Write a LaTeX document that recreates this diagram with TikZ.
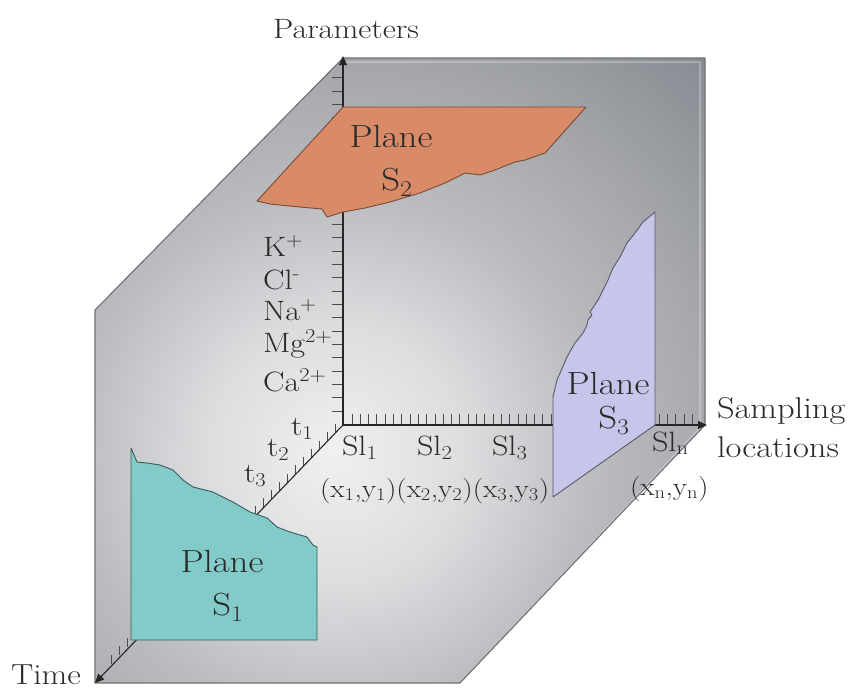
\documentclass[tikz,border=0pt]{standalone}
\usepackage{fontspec}
\setmainfont{Latin Modern Roman}[FakeStretch=1.15]
\usetikzlibrary{arrows.meta,calc}
\definecolor{txt}{HTML}{2A2A2A}
\definecolor{shadeA}{HTML}{F0F0F0}
\definecolor{shadeM}{HTML}{DCDDDF}
\definecolor{shadeN}{HTML}{BBBCBF}
\definecolor{shadeP}{HTML}{A6A8AC}
\definecolor{shadeB}{HTML}{85888F}
\definecolor{planeA}{HTML}{82CBC9}
\definecolor{planeB}{HTML}{D98A67}
\definecolor{planeC}{HTML}{C7C5E9}
\definecolor{edgegray}{HTML}{6E7075}
\pgfdeclareradialshading{cubeshade}{\pgfpoint{0bp}{0bp}}{color(0bp)=(shadeA); color(5.8bp)=(shadeM); color(11.6bp)=(shadeN); color(17bp)=(shadeP); color(25bp)=(shadeB); color(50bp)=(shadeB)}
\tikzset{
  axisline/.style={draw=black!85, line width=1.1pt, -{Triangle[length=9pt,width=8pt]}},
  tickline/.style={draw=black!70, line width=0.9pt},
  planeshape/.style={line width=0.9pt, line join=round},
  lbl/.style={text=txt, inner sep=0pt, outer sep=0pt},
  big/.style={lbl, font=\fontsize{32}{34}\selectfont},
  mid/.style={lbl, font=\fontsize{28}{30}\selectfont},
}
\begin{document}
\begin{tikzpicture}[x=1pt,y=-1pt]
\useasboundingbox (0,0) rectangle (851,688);
\coordinate (O) at (343,425);
\coordinate (Ptip) at (343,56);
\coordinate (Stip) at (707,425);
\coordinate (Ttip) at (95,683);
\coordinate (H1) at (95,310);
\coordinate (H2) at (343,58);
\coordinate (H3) at (705,58);
\coordinate (H4) at (705,425);
\coordinate (H5) at (460,683);
\coordinate (H6) at (95,683);
% cube body
\begin{scope}
\clip (H1) -- (H2) -- (H3) -- (H4) -- (H5) -- (H6) -- cycle;
\shade[shading=cubeshade] (335,455) circle[radius=560pt];
\draw[white, opacity=0.25, line width=2pt] (342,62) -- (700,62) -- (700,428) -- (455,690);
\end{scope}
\draw[edgegray, line width=1.1pt, line join=round] (H1) -- (H2) -- (H3) -- (H4) -- (H5) -- (H6) -- cycle;
% ticks
\foreach \k in {0,...,25}{
  \pgfmathsetmacro\yy{411-13.33*\k}
  \draw[tickline] (343,\yy) -- (332,\yy);
}
\foreach \k in {0,...,41}{
  \pgfmathsetmacro\xx{352+8.3*\k}
  \draw[tickline] (\xx,425) -- (\xx,414);
}
\foreach \k in {1,...,29}{
  \pgfmathsetmacro\xx{343-8*\k}
  \pgfmathsetmacro\yy{425+8.226*\k}
  \draw[tickline] (\xx,\yy) -- (\xx,\yy-9);
}
% axes
\draw[axisline] (O) -- (Ptip);
\draw[axisline] (O) -- (Stip);
\draw[axisline] (O) -- (Ttip);
% plane S2
\draw[planeshape, fill=planeB, draw=planeB!55!black] (343,107) -- (586,107) -- (545,153) -- (525,160) -- (515,162) -- (495,170) -- (480,175) -- (465,173) -- (445,183) -- (420,193) -- (390,202) -- (365,208) -- (343,212) -- (327,217) -- (322,209) -- (300,207) -- (270,204) -- (257,201) -- cycle;
% plane S3
\draw[planeshape, fill=planeC, draw=planeC!45!black] (655,212) -- (655,425) -- (553,497) -- (553,397) -- (557,380) -- (567,357) -- (575,343) -- (583,333) -- (587,325) -- (588,320) -- (592,315) -- (590,312) -- (598,300) -- (608,280) -- (613,268) -- (620,257) -- (627,243) -- (635,233) -- (643,222) -- cycle;
% plane S1
\draw[planeshape, fill=planeA, draw=planeA!45!black] (131,448) -- (131,640) -- (317,640) -- (317,547) -- (313,545) -- (307,537) -- (290,532) -- (277,527) -- (267,518) -- (250,512) -- (233,502) -- (213,492) -- (193,487) -- (183,480) -- (173,470) -- (160,465) -- (147,463) -- (137,462) -- cycle;
% plane labels
\node[big, anchor=base] (p2a) at (391,147) {Plane};
\node[big, anchor=base] (p2b) at (397,190) {S\textsubscript{2}};
\node[big, anchor=base] (p3a) at (608,394) {Plane};
\node[big, anchor=base] (p3b) at (614,428) {S\textsubscript{3}};
\node[big, anchor=base] (p1a) at (222,572) {Plane};
\node[big, anchor=base] (p1b) at (228,615) {S\textsubscript{1}};
% axis titles
\node[mid, anchor=base] (par) at (346,38) {Parameters};
\node[mid, anchor=base west, font=\fontsize{30}{32}\selectfont] (samp1) at (717,418) {Sampling};
\node[mid, anchor=base west, font=\fontsize{30}{32}\selectfont] (samp2) at (717,457) {locations};
\node[mid, anchor=base east, font=\fontsize{29}{31}\selectfont] (time) at (81,684) {Time};
% ions
\node[mid, anchor=base west] (ionK) at (263,256) {K\textsuperscript{+}};
\node[mid, anchor=base west] (ionCl) at (263,289) {Cl\textsuperscript{-}};
\node[mid, anchor=base west] (ionNa) at (263,320) {Na\textsuperscript{+}};
\node[mid, anchor=base west] (ionMg) at (263,352) {Mg\textsuperscript{2+}};
\node[mid, anchor=base west] (ionCa) at (263,391) {Ca\textsuperscript{2+}};
% time labels
\node[mid, anchor=base west] (t1) at (291,435) {t\textsubscript{1}};
\node[mid, anchor=base west] (t2) at (267,456) {t\textsubscript{2}};
\node[mid, anchor=base west] (t3) at (244,482) {t\textsubscript{3}};
% sampling labels
\node[mid, anchor=base west] (sl1) at (342,455) {Sl\textsubscript{1}};
\node[mid, anchor=base west] (sl2) at (417,455) {Sl\textsubscript{2}};
\node[mid, anchor=base west] (sl3) at (492,455) {Sl\textsubscript{3}};
\node[mid, anchor=base west] (sln) at (652,451) {Sl\textsubscript{n}};
\node[mid, anchor=base west, font=\fontsize{25.5}{28}\selectfont] (xy) at (320,497) {(x\textsubscript{1},y\textsubscript{1})(x\textsubscript{2},y\textsubscript{2})(x\textsubscript{3},y\textsubscript{3})};
\node[mid, anchor=base west, font=\fontsize{25.5}{28}\selectfont] (xyn) at (630,495) {(x\textsubscript{n},y\textsubscript{n})};
\end{tikzpicture}
\end{document}
